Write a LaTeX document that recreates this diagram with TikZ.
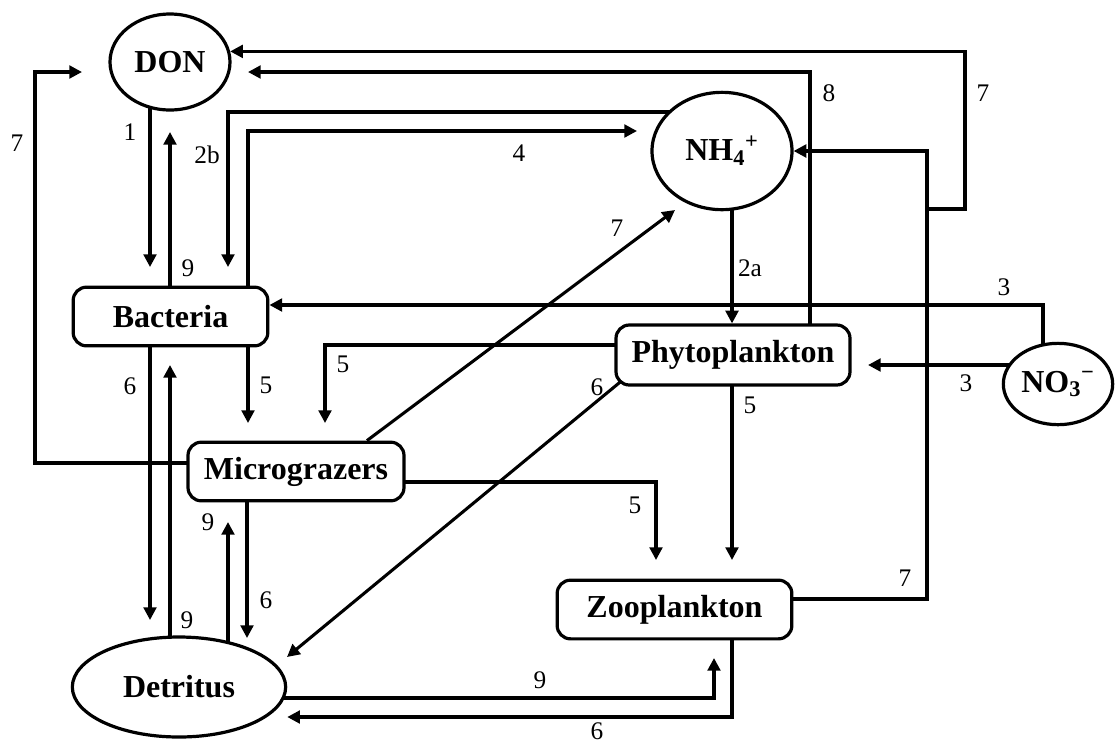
\documentclass[tikz,border=0pt]{standalone}
\usepackage{fontspec}
\setmainfont{Liberation Serif}
\usetikzlibrary{arrows.meta,shapes.geometric,backgrounds,calc}
\begin{document}
\begin{tikzpicture}[x=0.75pt,y=-0.75pt,
  conn/.style={line width=2.3pt},
  arr/.style={conn,-{Triangle[length=9.5pt,width=9.5pt]}},
  box/.style={draw,line width=2.4pt,rounded corners=10pt,fill=white,font=\fontsize{24}{28}\selectfont\bfseries,inner sep=0pt},
  oval/.style={draw,ellipse,line width=2.4pt,fill=white,font=\fontsize{24}{28}\selectfont\bfseries,inner sep=0pt},
  lbl/.style={font=\fontsize{19}{22}\selectfont,inner sep=0pt}]
\useasboundingbox (0,0) rectangle (1116,744);

% nodes
\node[oval,minimum width=90pt,minimum height=72pt] (DON) at (170,62) {DON};
\node[oval,minimum width=105pt,minimum height=88pt] (NH4) at (722,151) {NH\textsubscript{4}\textsuperscript{+}};
\node[oval,minimum width=82pt,minimum height=61pt] (NO3) at (1058,384) {NO\textsubscript{3}\textsuperscript{−}};
\node[oval,minimum width=160pt,minimum height=75pt] (Det) at (179,687) {Detritus};
\node[box,minimum width=146pt,minimum height=44pt] (Bac) at (170.5,316.5) {Bacteria};
\node[box,minimum width=175.5pt,minimum height=45pt] (Phy) at (733,355) {Phytoplankton};
\node[box,minimum width=162pt,minimum height=44pt] (Mic) at (296,471.5) {Micrograzers};
\node[box,minimum width=176pt,minimum height=44pt] (Zoo) at (674.5,609.5) {Zooplankton};

\coordinate (j7) at (927,209);

% connectors
\begin{scope}[on background layer]
\draw[arr] (DON.center -| 150,0) -- (150,267);               % 1
\draw[arr] (Bac.center -| 170,0) -- (170,132);               % 9
\draw[arr] (NH4.center |- 0,112) -- (228,112) -- (228,267);  % 2b
\draw[arr] (Bac.center -| 248,0) -- (248,131) -- (637,131);  % 4
\draw[arr] (Phy.center -| 810,0) -- (810,72) -- (248,72);    % 8
\draw[arr] (Zoo.center |- 0,599) -- (927,599) -- (NH4.east -| 927,0) -- (NH4.east); % 7
\draw[arr] (j7) -- (965,209) |- (DON.10);                     % 7
\draw[arr] (NO3.center -| 1043,0) -- (1043,305) -- (Bac.east |- 0,305); % 3
\draw[arr] (NO3.center |- 0,365) -- (868,365);               % 3
\draw[arr] (NH4.center -| 732,0) -- (Phy.north -| 732,0);    % 2a
\draw[arr] (Bac.center -| 248,0) -- (248,423);               % 5
\draw[arr] (Phy.center |- 0,345) -- (325,345) -- (325,423);  % 5
\draw[arr] (Bac.center -| 150,0) -- (150,620);               % 6
\draw[arr] (Det.center -| 170,0) -- (170,365);               % 9
\draw[arr] (Mic.center |- 0,463) -- (35,463) -- (35,72) -- (82,72); % 7
\draw[arr] (Mic.north -| 367,0) -- (675,210);                % 7
\draw[arr] (Mic.center |- 0,482) -- (656,482) -- (656,560);  % 5
\draw[arr] (Phy.center -| 732,0) -- (732,560);               % 5
\draw[arr] ($(Phy.south west)+(16,-13)$) -- (287,657);       % 6
\draw[arr] (Det.center -| 228,0) -- (228,522);               % 9
\draw[arr] (Mic.center -| 247,0) -- (247,638);               % 6
\draw[arr] (Det.center |- 0,698) -- (714,698) -- (714,658);  % 9
\draw[arr] (Zoo.center -| 732,0) -- (732,717) -- (Det.east |- 0,717); % 6
\end{scope}

% labels
\node[lbl] (l1) at (130,132) {1};
\node[lbl] (l2) at (188,268) {9};
\node[lbl] (l3) at (207,155) {2b};
\node[lbl] (l4) at (519,153) {4};
\node[lbl] (l5) at (829,93) {8};
\node[lbl] (l6) at (983,93) {7};
\node[lbl] (l7) at (17,143) {7};
\node[lbl] (l8) at (617,228) {7};
\node[lbl] (l9) at (750,268) {2a};
\node[lbl] (l10) at (1004,287) {3};
\node[lbl] (l11) at (966,383) {3};
\node[lbl] (l12) at (266,385) {5};
\node[lbl] (l13) at (343,364) {5};
\node[lbl] (l14) at (130,386) {6};
\node[lbl] (l15) at (750,405) {5};
\node[lbl] (l16) at (597,387) {6};
\node[lbl] (l17) at (208,522) {9};
\node[lbl] (l18) at (635,505) {5};
\node[lbl] (l19) at (266,600) {6};
\node[lbl] (l20) at (187,620) {9};
\node[lbl] (l21) at (905,578) {7};
\node[lbl] (l22) at (540,680) {9};
\node[lbl] (l23) at (597,731) {6};
\end{tikzpicture}
\end{document}
